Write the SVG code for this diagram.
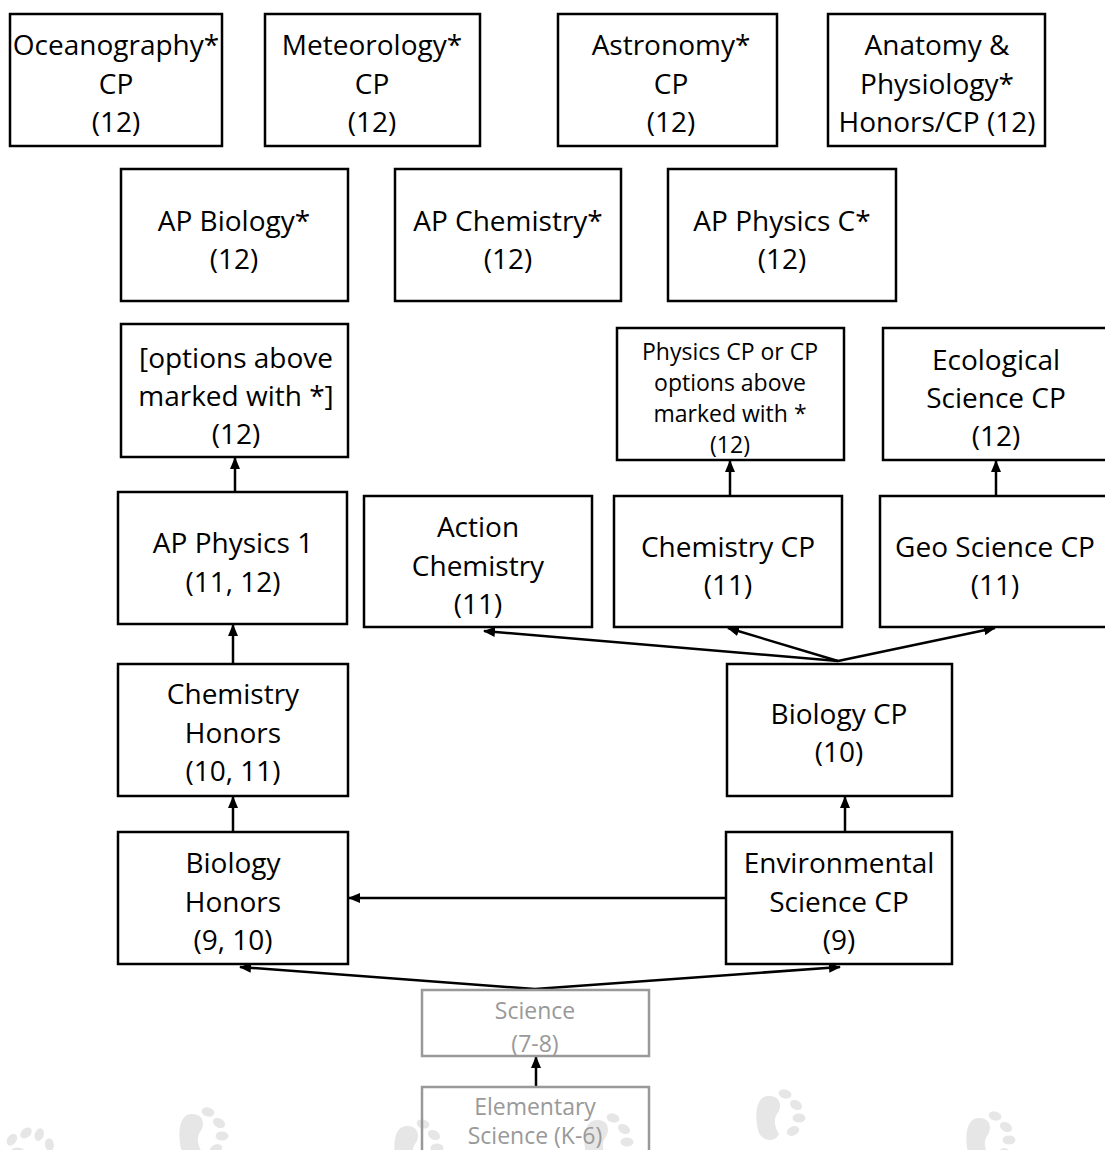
<svg xmlns="http://www.w3.org/2000/svg" width="1105" height="1150" viewBox="0 0 1105 1150">
<style>
.box{fill:#fff;stroke:#000;stroke-width:2.5}
.gbox{fill:none;stroke:#999;stroke-width:2.5}
.t{font-family:"Open Sans","DejaVu Sans",sans-serif;font-size:28px;fill:#000;text-anchor:middle}
.s{font-size:23px}
.g{fill:#999;font-size:23px}
.c{stroke:#000;stroke-width:2.5;fill:none}
.paw{fill:#e6e6e6}
</style>
<defs>
<marker id="ah" viewBox="0 0 12 10" refX="11" refY="5" markerWidth="12" markerHeight="10" markerUnits="userSpaceOnUse" orient="auto">
<path d="M0,0 L12,5 L0,10 Z" fill="#000"/>
</marker>
<g id="pawshape">
<path d="M-4,-22 C8,-23 11,-12 5,-4 C1,2 3,10 7,16 C3,25 -11,24 -14,12 C-17,0 -17,-21 -4,-22 Z"/>
<ellipse cx="13" cy="-24" rx="6.5" ry="4.5" transform="rotate(15 13 -24)"/>
<ellipse cx="24" cy="-13" rx="6.5" ry="4.5" transform="rotate(30 24 -13)"/>
<ellipse cx="27" cy="0" rx="6.5" ry="4.5"/>
<ellipse cx="21" cy="13" rx="6.5" ry="4.5" transform="rotate(-25 21 13)"/>
</g>
</defs>
<rect width="1105" height="1150" fill="#fff"/>
<g id="watermark" class="paw">
<use href="#pawshape" transform="translate(30 1160) rotate(-70)"/>
<use href="#pawshape" transform="translate(195 1136)"/>
<use href="#pawshape" transform="translate(410 1148)"/>
<use href="#pawshape" transform="translate(600 1142)"/>
<use href="#pawshape" transform="translate(772 1118)"/>
<use href="#pawshape" transform="translate(982 1140)"/>
</g>
<g id="connectors">
<line class="c" x1="730" y1="496" x2="730" y2="461" marker-end="url(#ah)"/>
<line class="c" x1="996" y1="496" x2="996" y2="461" marker-end="url(#ah)"/>
<line class="c" x1="235" y1="492" x2="235" y2="458" marker-end="url(#ah)"/>
<line class="c" x1="233" y1="664" x2="233" y2="625" marker-end="url(#ah)"/>
<line class="c" x1="233" y1="832" x2="233" y2="797" marker-end="url(#ah)"/>
<line class="c" x1="845" y1="832" x2="845" y2="797" marker-end="url(#ah)"/>
<line class="c" x1="726" y1="898" x2="349" y2="898" marker-end="url(#ah)"/>
<line class="c" x1="838" y1="661" x2="484" y2="631" marker-end="url(#ah)"/>
<line class="c" x1="838" y1="661" x2="728" y2="628" marker-end="url(#ah)"/>
<line class="c" x1="838" y1="661" x2="995" y2="628" marker-end="url(#ah)"/>
<line class="c" x1="535" y1="989" x2="240" y2="967" marker-end="url(#ah)"/>
<line class="c" x1="535" y1="989" x2="840" y2="967" marker-end="url(#ah)"/>
<line class="c" x1="536" y1="1087" x2="536" y2="1057" marker-end="url(#ah)"/>
</g>
<g id="oceanography"><rect class="box" x="10" y="14" width="212" height="132"/>
<text class="t" x="116" y="55">Oceanography*</text><text class="t" x="116" y="94">CP</text><text class="t" x="116" y="132">(12)</text></g>
<g id="meteorology"><rect class="box" x="265" y="14" width="215" height="132"/>
<text class="t" x="372" y="55">Meteorology*</text><text class="t" x="372" y="94">CP</text><text class="t" x="372" y="132">(12)</text></g>
<g id="astronomy"><rect class="box" x="558" y="14" width="219" height="132"/>
<text class="t" x="671" y="55">Astronomy*</text><text class="t" x="671" y="94">CP</text><text class="t" x="671" y="132">(12)</text></g>
<g id="anatomy"><rect class="box" x="828" y="14" width="217" height="132"/>
<text class="t" x="937" y="55">Anatomy &amp;</text><text class="t" x="937" y="94">Physiology*</text><text class="t" x="937" y="132">Honors/CP (12)</text></g>
<g id="apbio"><rect class="box" x="121" y="169" width="227" height="132"/>
<text class="t" x="234" y="231">AP Biology*</text><text class="t" x="234" y="269">(12)</text></g>
<g id="apchem"><rect class="box" x="395" y="169" width="226" height="132"/>
<text class="t" x="508" y="231">AP Chemistry*</text><text class="t" x="508" y="269">(12)</text></g>
<g id="apphysc"><rect class="box" x="668" y="169" width="228" height="132"/>
<text class="t" x="782" y="231">AP Physics C*</text><text class="t" x="782" y="269">(12)</text></g>
<g id="options"><rect class="box" x="121" y="324" width="227" height="133"/>
<text class="t" x="236" y="368">[options above</text><text class="t" x="236" y="406">marked with *]</text><text class="t" x="236" y="444">(12)</text></g>
<g id="physicscp"><rect class="box" x="617" y="328" width="227" height="132"/>
<text class="t s" x="730" y="360">Physics CP or CP</text><text class="t s" x="730" y="391">options above</text><text class="t s" x="730" y="422">marked with *</text><text class="t s" x="730" y="453">(12)</text></g>
<g id="ecological"><rect class="box" x="883" y="328" width="230" height="132"/>
<text class="t" x="996" y="370">Ecological</text><text class="t" x="996" y="408">Science CP</text><text class="t" x="996" y="446">(12)</text></g>
<g id="apphys1"><rect class="box" x="118" y="492" width="229" height="132"/>
<text class="t" x="233" y="553">AP Physics 1</text><text class="t" x="233" y="592">(11, 12)</text></g>
<g id="actionchem"><rect class="box" x="364" y="496" width="228" height="131"/>
<text class="t" x="478" y="537">Action</text><text class="t" x="478" y="576">Chemistry</text><text class="t" x="478" y="614">(11)</text></g>
<g id="chemcp"><rect class="box" x="614" y="496" width="228" height="131"/>
<text class="t" x="728" y="557">Chemistry CP</text><text class="t" x="728" y="595">(11)</text></g>
<g id="geosci"><rect class="box" x="880" y="496" width="232" height="131"/>
<text class="t" x="995" y="557">Geo Science CP</text><text class="t" x="995" y="595">(11)</text></g>
<g id="chemhonors"><rect class="box" x="118" y="664" width="230" height="132"/>
<text class="t" x="233" y="704">Chemistry</text><text class="t" x="233" y="743">Honors</text><text class="t" x="233" y="781">(10, 11)</text></g>
<g id="biocp"><rect class="box" x="727" y="664" width="225" height="132"/>
<text class="t" x="839" y="724">Biology CP</text><text class="t" x="839" y="762">(10)</text></g>
<g id="biohonors"><rect class="box" x="118" y="832" width="230" height="132"/>
<text class="t" x="233" y="873">Biology</text><text class="t" x="233" y="912">Honors</text><text class="t" x="233" y="950">(9, 10)</text></g>
<g id="envsci"><rect class="box" x="726" y="832" width="226" height="132"/>
<text class="t" x="839" y="873">Environmental</text><text class="t" x="839" y="912">Science CP</text><text class="t" x="839" y="950">(9)</text></g>
<g id="science78"><rect class="gbox" x="422" y="990" width="227" height="66"/>
<text class="t g" x="535" y="1019">Science</text><text class="t g" x="535" y="1052">(7-8)</text></g>
<g id="elementary"><rect class="gbox" x="422" y="1087" width="227" height="80"/>
<text class="t g" x="535" y="1115">Elementary</text><text class="t g" x="535" y="1144">Science (K-6)</text></g>
</svg>
